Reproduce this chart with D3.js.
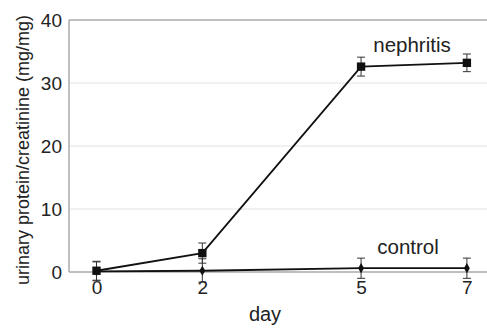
<!DOCTYPE html>
<html>
<head>
<meta charset="utf-8">
<script src="https://cdn.jsdelivr.net/npm/d3@7"></script>
<style>
  body { margin: 0; background: #fff; }
  text { font-family: "Liberation Sans", Arial, sans-serif; fill: #222; }
</style>
</head>
<body>
<svg id="chart"></svg>
<script>
// data
const days = [0, 2, 5, 7];
const nephritis = [0.2, 3.0, 32.6, 33.2];
const nephritisErr = [1.5, 1.6, 1.5, 1.4];
const control = [0.1, 0.2, 0.6, 0.6];
const controlErr = [1.5, 1.9, 1.6, 1.6];
const yTicks = [0, 10, 20, 30, 40];

const W = 487, H = 329;
const margin = { top: 20, right: 0, bottom: 57, left: 69 };
const width = W - margin.left - margin.right;
const height = H - margin.top - margin.bottom;

const svg = d3.select("#chart").attr("width", W).attr("height", H);
const g = svg.append("g").attr("transform", `translate(${margin.left},${margin.top})`);

const x = d3.scaleLinear().domain([-0.52, 7.38]).range([0, width]);
const y = d3.scaleLinear().domain([0, 40]).range([height, 0]);

// gridlines
g.selectAll(".grid")
    .data(yTicks.filter(d => d > 0 && d < 40))
    .join("line")
    .attr("x1", 0).attr("x2", width)
    .attr("y1", d => y(d)).attr("y2", d => y(d))
    .attr("stroke", "#e2e2e2").attr("stroke-width", 1);

// frame: top, left, bottom
g.append("line").attr("x1", 0).attr("x2", width).attr("y1", 0).attr("y2", 0)
    .attr("stroke", "#aaa").attr("stroke-width", 1.5);
g.append("line").attr("x1", 0).attr("x2", 0).attr("y1", 0).attr("y2", height)
    .attr("stroke", "#aaa").attr("stroke-width", 1.5);
g.append("line").attr("x1", 0).attr("x2", width).attr("y1", height).attr("y2", height)
    .attr("stroke", "#aaa").attr("stroke-width", 1.5);

// axes (labels only)
const yAxis = g.append("g")
    .call(d3.axisLeft(y).tickValues(yTicks).tickSize(0).tickPadding(7));
yAxis.select(".domain").remove();
yAxis.selectAll("text").style("font-size", "19px").attr("fill", "#222")
    .attr("font-family", "Liberation Sans, Arial, sans-serif");

const xAxis = g.append("g").attr("transform", `translate(0,${height})`)
    .call(d3.axisBottom(x).tickValues(days).tickSize(0).tickPadding(9));
xAxis.select(".domain").remove();
xAxis.selectAll("text").style("font-size", "19px").attr("fill", "#222")
    .attr("font-family", "Liberation Sans, Arial, sans-serif");

// axis titles
svg.append("text")
    .attr("x", 265).attr("y", 321)
    .attr("text-anchor", "middle").style("font-size", "20px")
    .text("day");
svg.append("text")
    .attr("transform", `translate(29,150) rotate(-90)`)
    .attr("text-anchor", "middle").style("font-size", "18px")
    .text("urinary protein/creatinine (mg/mg)");

function drawSeries(vals, errs, marker) {
    const pts = days.map((d, i) => ({ d, v: vals[i], e: errs[i] }));
    // error bars
    const eb = g.append("g").attr("stroke", "#333").attr("stroke-width", 1);
    pts.forEach(p => {
        const cx = x(p.d);
        const lo = Math.max(p.v - p.e, -1.6);
        eb.append("line").attr("x1", cx).attr("x2", cx)
            .attr("y1", y(p.v + p.e)).attr("y2", y(lo));
        eb.append("line").attr("x1", cx - 4).attr("x2", cx + 4)
            .attr("y1", y(p.v + p.e)).attr("y2", y(p.v + p.e));
        eb.append("line").attr("x1", cx - 4).attr("x2", cx + 4)
            .attr("y1", y(lo)).attr("y2", y(lo));
    });
    g.append("path").datum(pts)
        .attr("fill", "none").attr("stroke", "#111").attr("stroke-width", 1.8)
        .attr("d", d3.line().x(p => x(p.d)).y(p => y(p.v)));
    g.selectAll(null).data(pts).join("path")
        .attr("transform", p => `translate(${x(p.d)},${y(p.v)})`)
        .attr("fill", "#111")
        .attr("d", marker);
}

drawSeries(control, controlErr, d3.symbol().type(d3.symbolDiamond).size(30)());
drawSeries(nephritis, nephritisErr, d3.symbol().type(d3.symbolSquare).size(70)());

// series labels
svg.append("text").attr("x", 412).attr("y", 52)
    .attr("text-anchor", "middle").style("font-size", "20.5px").text("nephritis");
svg.append("text").attr("x", 408).attr("y", 254)
    .attr("text-anchor", "middle").style("font-size", "20.5px").text("control");
</script>
</body>
</html>
